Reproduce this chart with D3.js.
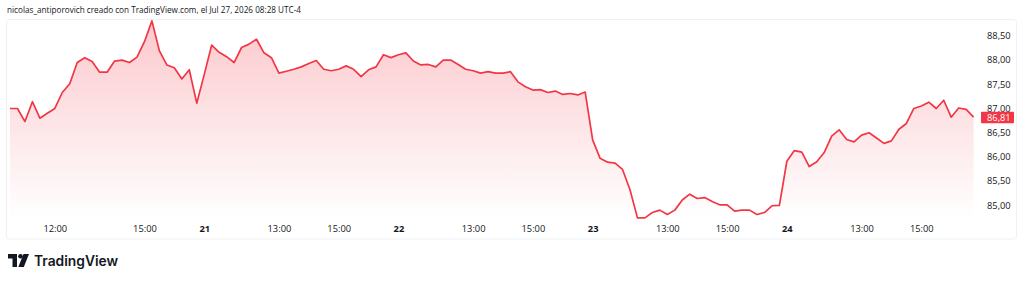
<!DOCTYPE html>
<html>
<head>
<meta charset="utf-8">
<script src="https://cdn.jsdelivr.net/npm/d3@7"></script>
<style>
  html, body { margin: 0; padding: 0; background: #fff; }
  svg { display: block; }
</style>
</head>
<body>
<svg id="chart" width="1024" height="282"></svg>
<script>
// ---- data ----
const prices = [
  86.99, 86.99, 86.72, 87.13, 86.79, 86.89, 86.99, 87.32, 87.50, 87.94,
  88.04, 87.96, 87.74, 87.74, 87.97, 87.99, 87.94, 88.05, 88.37, 88.80,
  88.18, 87.89, 87.83, 87.60, 87.79, 87.10, 87.69, 88.30, 88.15, 88.06,
  87.94, 88.25, 88.32, 88.42, 88.14, 88.04, 87.72, 87.76, 87.80, 87.85,
  87.92, 87.98, 87.80, 87.77, 87.80, 87.87, 87.80, 87.65, 87.79, 87.85,
  88.10, 88.04, 88.10, 88.14, 87.97, 87.89, 87.90, 87.85, 87.99, 87.99,
  87.90, 87.80, 87.77, 87.72, 87.75, 87.72, 87.72, 87.75, 87.54, 87.44,
  87.37, 87.38, 87.32, 87.35, 87.28, 87.30, 87.27, 87.33, 86.34, 85.96,
  85.88, 85.86, 85.73, 85.31, 84.73, 84.73, 84.84, 84.89, 84.80, 84.89,
  85.10, 85.22, 85.13, 85.15, 85.07, 85.00, 85.00, 84.87, 84.89, 84.89,
  84.80, 84.84, 84.98, 84.99, 85.90, 86.12, 86.09, 85.79, 85.89, 86.08,
  86.42, 86.55, 86.35, 86.30, 86.44, 86.49, 86.38, 86.27, 86.32, 86.56,
  86.68, 86.99, 87.04, 87.12, 86.99, 87.16, 86.81, 87.00, 86.97, 86.81
];
const xTickIndex  = [6, 18, 26, 36, 44, 52, 62, 70, 78, 88, 96, 104, 114, 122];
const xTickLabels = ["12:00", "15:00", "21", "13:00", "15:00", "22", "13:00", "15:00", "23", "13:00", "15:00", "24", "13:00", "15:00"];
const yTickValues = [85.0, 85.5, 86.0, 86.5, 87.0, 87.5, 88.0, 88.5];
const lastPrice = 86.81;
const headerText = "nicolas_antiporovich creado con TradingView.com, el Jul 27, 2026 08:28 UTC-4";
const brandText = "TradingView";

// ---- drawing ----
const svg = d3.select("#chart");
const RED = "#f23645";
const font = "'Open Sans', 'Liberation Sans', sans-serif";

const x = d3.scaleLinear().domain([0, prices.length - 1]).range([10, 973.6]);
const y = d3.scaleLinear().domain([85, 88.5]).range([204.8, 35.4]);
const plotBottom = 219;

// header
svg.append("text")
  .attr("x", 7).attr("y", 13)
  .attr("font-family", font).attr("font-size", 9)
  .attr("fill", "#131722")
  .attr("textLength", 294).attr("lengthAdjust", "spacingAndGlyphs")
  .text(headerText);

// frame
svg.append("rect")
  .attr("x", 6.5).attr("y", 19.5).attr("width", 1010).attr("height", 219.5)
  .attr("rx", 3).attr("fill", "#fff")
  .attr("stroke", "#eef0f3").attr("stroke-width", 1);

// gradient
const defs = svg.append("defs");
const grad = defs.append("linearGradient")
  .attr("id", "fillGrad").attr("gradientUnits", "userSpaceOnUse")
  .attr("x1", 0).attr("x2", 0).attr("y1", y(d3.max(prices))).attr("y2", plotBottom);
grad.append("stop").attr("offset", 0).attr("stop-color", RED).attr("stop-opacity", 0.27);
grad.append("stop").attr("offset", 1).attr("stop-color", RED).attr("stop-opacity", 0.0);

const area = d3.area()
  .x((d, i) => x(i))
  .y0(plotBottom)
  .y1(d => y(d));
const line = d3.line()
  .x((d, i) => x(i))
  .y(d => y(d));

svg.append("path").datum(prices)
  .attr("d", area).attr("fill", "url(#fillGrad)");
svg.append("path").datum(prices)
  .attr("d", line).attr("fill", "none")
  .attr("stroke", RED).attr("stroke-width", 1.7)
  .attr("stroke-linejoin", "round");

// y axis labels (right)
const fmt = v => d3.format(".2f")(v).replace(".", ",");
const yAxis = d3.axisRight(y).tickValues(yTickValues).tickSize(0).tickPadding(0).tickFormat(fmt);
const yg = svg.append("g").attr("transform", "translate(987,0)").call(yAxis);
yg.select(".domain").remove();
yg.selectAll("text")
  .attr("font-family", font).attr("font-size", 9.3).attr("fill", "#131722")
  .attr("text-anchor", "start").attr("dy", "0.35em");

// last price badge
const ly = y(lastPrice);
svg.append("rect")
  .attr("x", 981).attr("y", ly - 5.5).attr("width", 33).attr("height", 11.5)
  .attr("rx", 1).attr("fill", RED);
svg.append("text")
  .attr("x", 987).attr("y", ly + 0.3).attr("dy", "0.35em")
  .attr("font-family", font).attr("font-size", 9.3).attr("fill", "#fff")
  .text(fmt(lastPrice));

// x axis labels
const xAxis = d3.axisBottom(x).tickValues(xTickIndex).tickSize(0).tickPadding(0)
  .tickFormat((d, i) => xTickLabels[i]);
const xg = svg.append("g").attr("transform", "translate(0,225)").call(xAxis);
xg.select(".domain").remove();
xg.selectAll("text")
  .attr("font-family", font).attr("font-size", 9.3)
  .attr("fill", "#131722")
  .attr("font-weight", (d, i) => /:/.test(xTickLabels[i]) ? 400 : 700);

// brand logo
const logo = svg.append("g").attr("transform", "translate(8,254)");
logo.append("path")
  .attr("d", "M0 0 H9 V13 H4.5 V4.5 H0 Z").attr("fill", "#131722");
logo.append("circle").attr("cx", 12.5).attr("cy", 2.3).attr("r", 2.3).attr("fill", "#131722");
logo.append("path")
  .attr("d", "M15.5 0 H21 L15.8 13 H10.3 Z").attr("fill", "#131722");
svg.append("text")
  .attr("x", 34).attr("y", 266)
  .attr("font-family", "Inter, 'Open Sans', sans-serif").attr("font-size", 13.8)
  .attr("font-weight", 600).attr("fill", "#131722")
  .text(brandText);
</script>
</body>
</html>
